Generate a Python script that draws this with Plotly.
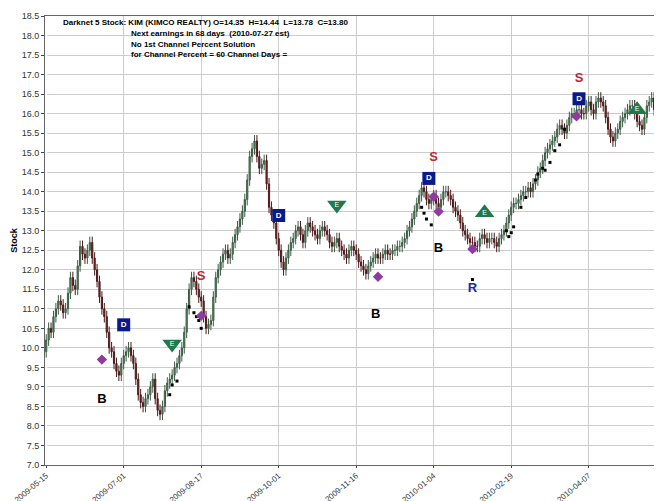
import plotly.graph_objects as go

# daily closes (trading-day index from 2009-05-15)
closes = [
    10.2, 10.5, 10.4, 10.8, 11.0, 11.2, 11.1, 10.9, 11.0, 11.4, 11.8, 11.6, 11.5, 12.1, 12.6, 12.4, 12.3, 12.5, 12.7, 12.3,
    12.0, 11.7, 11.3, 11.0, 10.8, 10.4, 10.0, 9.9, 9.6, 9.4, 9.3, 9.6, 9.8, 9.9, 10.0, 9.8, 9.6, 9.2, 8.8, 8.6,
    8.5, 8.7, 8.8, 9.0, 9.2, 8.7, 8.4, 8.3, 8.5, 8.9, 9.1, 9.2, 9.3, 9.5, 9.6, 9.8, 10.0, 10.4, 11.0, 11.5,
    11.8, 11.7, 11.5, 11.3, 11.2, 10.8, 10.5, 10.6, 10.7, 11.3, 11.8, 12.0, 12.2, 12.4, 12.5, 12.3, 12.4, 12.7, 12.9, 13.1,
    13.3, 13.5, 13.8, 14.3, 14.9, 15.1, 15.3, 14.9, 14.6, 14.7, 14.8, 14.2, 13.6, 13.4, 13.2, 12.8, 12.5, 12.2, 12.0, 12.3,
    12.5, 12.7, 12.8, 13.0, 13.1, 12.9, 12.7, 13.0, 13.2, 13.1, 13.0, 12.9, 12.8, 13.0, 13.1, 13.0, 12.9, 12.7, 12.6, 12.7,
    12.8, 12.6, 12.5, 12.4, 12.3, 12.5, 12.6, 12.5, 12.4, 12.2, 12.1, 12.0, 11.9, 12.1, 12.2, 12.3, 12.4, 12.3, 12.3, 12.4,
    12.5, 12.4, 12.4, 12.5, 12.5, 12.6, 12.6, 12.7, 12.8, 13.0, 13.1, 13.3, 13.5, 13.7, 13.9, 14.1, 14.0, 13.8, 13.7, 13.8,
    13.9, 13.7, 13.6, 13.8, 14.0, 14.0, 13.9, 13.8, 13.6, 13.5, 13.4, 13.2, 13.0, 12.9, 12.8, 12.7, 12.7, 12.6, 12.6, 12.8,
    12.9, 12.8, 12.7, 12.8, 12.8, 12.7, 12.6, 12.8, 12.9, 13.0, 13.2, 13.4, 13.6, 13.7, 13.7, 13.8, 13.9, 14.0, 14.0, 14.1,
    14.0, 14.2, 14.3, 14.5, 14.6, 14.8, 15.0, 15.1, 15.2, 15.3, 15.4, 15.6, 15.7, 15.6, 15.5, 15.7, 15.9, 16.0, 16.0, 16.1,
    16.1, 16.0, 16.0, 16.2, 16.3, 16.1, 16.0, 16.3, 16.4, 16.3, 16.2, 15.9, 15.6, 15.4, 15.3, 15.5, 15.6, 15.8, 15.9, 16.0,
    16.1, 16.2, 16.2, 16.0, 15.8, 15.7, 15.6, 15.9, 16.2, 16.3, 16.4, 16.1, 15.7, 15.2, 14.8, 13.8,
]
first_open = 9.9
wick = 0.15

tick_dates = ["2009-05-15", "2009-07-01", "2009-08-17", "2009-10-01",
              "2009-11-16", "2010-01-04", "2010-02-19", "2010-04-07"]
tick_index = [0, 32, 64, 96, 128, 160, 192, 224]

# signal markers: (trading-day index, price)
d_marks = [(32, 10.59), (96, 13.39), (158, 14.34), (220, 16.38)]
e_down = [(52, 10.10), (120, 13.66)]
e_up = [(181, 13.46), (244, 16.10)]
s_marks = [(64, 11.82), (160, 14.87), (220, 16.89)]
b_marks = [(23, 8.68), (136, 10.84), (162, 12.53)]
r_marks = [(176, 11.52)]
diamonds = [(23, 9.70), (64, 10.82), (137, 11.82), (160, 13.87), (162, 13.49), (176, 12.53), (219, 15.93)]
dots = [(51, 8.80), (52, 9.05), (54, 9.15), (59, 11.05), (61, 10.90), (62, 10.80), (63, 10.70), (64, 10.50),
        (155, 13.60), (156, 13.45), (157, 13.30), (159, 13.15), (176, 11.75),
        (190, 13.00), (191, 12.85), (192, 12.95), (193, 13.10), (196, 13.60), (198, 13.85),
        (202, 14.30), (203, 14.45), (205, 14.60), (206, 14.55), (208, 14.75), (210, 15.05), (212, 15.20), (214, 15.60)]

n = len(closes)
idx = list(range(n))
opens = [first_open] + closes[:-1]
highs = [max(o, c) + wick for o, c in zip(opens, closes)]
lows = [min(o, c) - wick for o, c in zip(opens, closes)]


def xs(pts):
    return [i for i, _ in pts]


def ys(pts):
    return [p for _, p in pts]


fig = go.Figure()
fig.add_trace(go.Candlestick(
    x=idx, open=opens, high=highs, low=lows, close=closes,
    increasing=dict(line=dict(color="#3c5a44", width=1), fillcolor="#4f9a5c"),
    decreasing=dict(line=dict(color="#4a1a1a", width=1), fillcolor="#981c22"),
    whiskerwidth=0, showlegend=False,
))
fig.add_trace(go.Scatter(x=xs(dots), y=ys(dots), mode="markers",
                         marker=dict(color="black", size=3, symbol="square"), showlegend=False))
fig.add_trace(go.Scatter(x=xs(diamonds), y=ys(diamonds), mode="markers",
                         marker=dict(color="#8e3a9e", size=8, symbol="diamond"), showlegend=False))
fig.add_trace(go.Scatter(x=xs(d_marks), y=ys(d_marks), mode="markers+text", text=["<b>D</b>"] * len(d_marks),
                         textfont=dict(color="white", size=8, family="Liberation Sans"),
                         marker=dict(color="#0a1a8a", size=13, symbol="square"), showlegend=False))
fig.add_trace(go.Scatter(x=xs(e_down), y=ys(e_down), mode="markers+text", text=["E"] * len(e_down),
                         textfont=dict(color="white", size=7), textposition="middle center",
                         marker=dict(color="#1e7a4a", size=17, symbol="triangle-down"), showlegend=False))
fig.add_trace(go.Scatter(x=xs(e_up), y=ys(e_up), mode="markers+text", text=["E"] * len(e_up),
                         textfont=dict(color="white", size=7), textposition="middle center",
                         marker=dict(color="#1e7a4a", size=17, symbol="triangle-up"), showlegend=False))
for pts, label, color in [(s_marks, "S", "#c0282c"), (b_marks, "B", "black"), (r_marks, "R", "#1a2aa8")]:
    fig.add_trace(go.Scatter(x=xs(pts), y=ys(pts), mode="text", text=["<b>%s</b>" % label] * len(pts),
                             textfont=dict(color=color, size=13, family="Liberation Sans"),
                             showlegend=False))

header = ["Darknet 5 Stock: KIM (KIMCO REALTY) O=14.35  H=14.44  L=13.78  C=13.80",
          "Next earnings in 68 days  (2010-07-27 est)",
          "No 1st Channel Percent Solution",
          "for Channel Percent = 60 Channel Days ="]
for i, line in enumerate(header):
    fig.add_annotation(x=0.025 if i == 0 else 0.135, y=1 - i * 0.024, xref="paper", yref="paper",
                       text="<b>%s</b>" % line, showarrow=False, xanchor="left", yanchor="top",
                       font=dict(size=8, color="black", family="Liberation Sans"))

fig.update_layout(
    width=662, height=501,
    margin=dict(l=37, r=5, t=8, b=44),
    paper_bgcolor="white", plot_bgcolor="white",
    font=dict(family="Liberation Sans", size=9, color="#333"),
    xaxis=dict(
        rangeslider_visible=False, automargin=False,
        range=[-0.5, n - 0.5],
        tickvals=tick_index, ticktext=tick_dates, tickangle=-40, tickfont=dict(size=8),
        showgrid=True, gridcolor="#cccccc", showline=True, linecolor="#666", mirror=True,
        ticks="outside", ticklen=2,
    ),
    yaxis=dict(
        automargin=False,
        range=[7.0, 18.5], dtick=0.5, tickformat=".1f",
        title=dict(text="<b>Stock</b>", standoff=2, font=dict(size=9, color="black")),
        showgrid=True, gridcolor="#cccccc", showline=True, linecolor="#666", mirror=True,
        ticks="outside", ticklen=3,
    ),
)

fig.write_html("out.html")
